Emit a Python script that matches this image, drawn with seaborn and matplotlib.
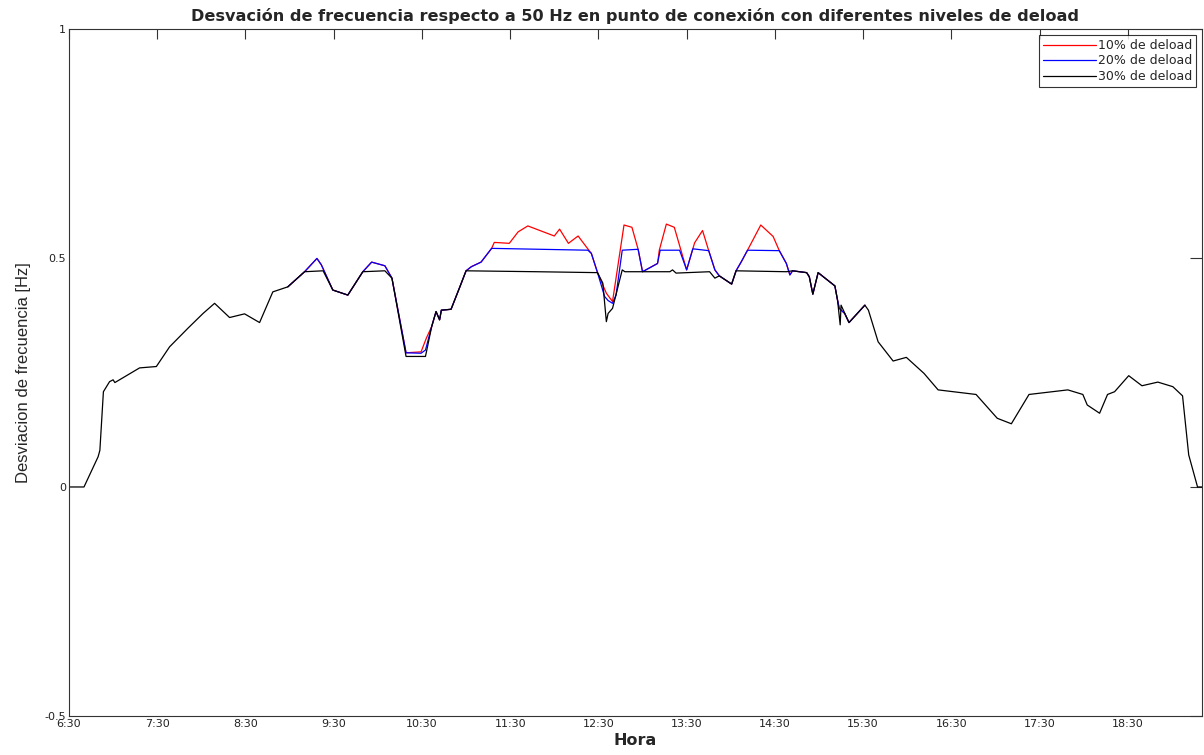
import matplotlib
matplotlib.use("Agg")
import matplotlib.pyplot as plt
import seaborn as sns

# Hours (decimal) and frequency deviation [Hz]
t30 = [6.50, 6.67, 6.83, 6.85, 6.89, 6.96, 7.00, 7.02, 7.30, 7.49, 7.64, 7.85,
       8.02, 8.15, 8.32, 8.49, 8.66, 8.81, 8.98, 9.17, 9.38, 9.49, 9.66, 9.83,
       10.08, 10.16, 10.32, 10.54, 10.61, 10.66, 10.70, 10.72, 10.83, 10.93,
       10.99, 11.00, 11.80, 12.49, 12.55, 12.59, 12.61, 12.66, 12.77, 12.80,
       13.31, 13.34, 13.38, 13.76, 13.82, 13.87, 14.01, 14.06, 14.63, 14.70,
       14.86, 14.89, 14.93, 14.99, 15.18, 15.21, 15.24, 15.25, 15.34, 15.52,
       15.56, 15.67, 15.84, 15.99, 16.19, 16.35, 16.78, 17.02, 17.18, 17.38,
       17.82, 17.99, 18.04, 18.18, 18.27, 18.35, 18.51, 18.66, 18.84, 19.01,
       19.12, 19.19, 19.29, 19.34]
f30 = [0, 0, 0.066, 0.080, 0.208, 0.230, 0.234, 0.228, 0.260, 0.263, 0.306, 0.347,
       0.379, 0.401, 0.370, 0.378, 0.359, 0.426, 0.437, 0.470, 0.472, 0.430, 0.419, 0.470,
       0.472, 0.456, 0.285, 0.285, 0.350, 0.383, 0.365, 0.386, 0.388, 0.437,
       0.467, 0.472, 0.470, 0.468, 0.445, 0.361, 0.379, 0.390, 0.474, 0.470,
       0.470, 0.474, 0.467, 0.470, 0.456, 0.461, 0.443, 0.472, 0.470, 0.472,
       0.468, 0.459, 0.421, 0.468, 0.439, 0.408, 0.354, 0.397, 0.359, 0.397,
       0.386, 0.317, 0.275, 0.283, 0.248, 0.212, 0.202, 0.150, 0.138, 0.202,
       0.212, 0.202, 0.179, 0.161, 0.202, 0.208, 0.243, 0.221, 0.229, 0.219,
       0.199, 0.070, 0, 0]

t20 = [8.98, 9.17, 9.31, 9.36, 9.49, 9.66, 9.83, 9.93, 10.08, 10.16, 10.32, 10.49,
       10.54, 10.61, 10.66, 10.70, 10.72, 10.83, 10.93, 10.99, 11.00, 11.06, 11.17,
       11.29, 12.38, 12.42, 12.49, 12.57, 12.61, 12.66, 12.70, 12.77, 12.95, 13.00,
       13.17, 13.20, 13.42, 13.50, 13.57, 13.75, 13.82, 13.87, 14.01, 14.06, 14.12,
       14.19, 14.55, 14.63, 14.67, 14.70, 14.86, 14.89, 14.93, 14.99, 15.18, 15.21,
       15.23, 15.29, 15.34, 15.52]
f20 = [0.437, 0.470, 0.499, 0.485, 0.430, 0.419, 0.470, 0.491, 0.483, 0.456, 0.293, 0.292,
       0.299, 0.350, 0.383, 0.365, 0.386, 0.388, 0.437, 0.467, 0.472, 0.481, 0.491,
       0.521, 0.517, 0.510, 0.468, 0.416, 0.407, 0.401, 0.419, 0.517, 0.519, 0.470,
       0.488, 0.517, 0.517, 0.474, 0.520, 0.516, 0.474, 0.461, 0.443, 0.472, 0.492,
       0.517, 0.516, 0.488, 0.463, 0.472, 0.468, 0.459, 0.421, 0.468, 0.439, 0.408,
       0.390, 0.379, 0.359, 0.397]

t10 = [8.98, 9.17, 9.31, 9.36, 9.49, 9.66, 9.83, 9.93, 10.08, 10.16, 10.32, 10.49,
       10.55, 10.61, 10.66, 10.70, 10.72, 10.83, 10.93, 10.99, 11.00, 11.06, 11.17,
       11.29, 11.32, 11.49, 11.59, 11.70, 12.00, 12.06, 12.16, 12.27, 12.36, 12.42,
       12.49, 12.59, 12.66, 12.79, 12.88, 12.95, 13.00, 13.17, 13.19, 13.27, 13.36,
       13.50, 13.59, 13.68, 13.75, 13.82, 13.87, 14.01, 14.06, 14.12, 14.19, 14.34,
       14.48, 14.55, 14.63, 14.67, 14.70, 14.86, 14.89, 14.93, 14.99, 15.18, 15.21,
       15.23, 15.29, 15.34, 15.52]
f10 = [0.437, 0.470, 0.499, 0.485, 0.430, 0.419, 0.470, 0.491, 0.483, 0.456, 0.293, 0.295,
       0.325, 0.350, 0.383, 0.365, 0.386, 0.388, 0.437, 0.467, 0.472, 0.481, 0.491,
       0.521, 0.534, 0.532, 0.557, 0.570, 0.548, 0.563, 0.532, 0.548, 0.525, 0.510,
       0.468, 0.423, 0.405, 0.572, 0.567, 0.519, 0.470, 0.488, 0.517, 0.574, 0.567,
       0.474, 0.533, 0.560, 0.516, 0.474, 0.461, 0.443, 0.472, 0.492, 0.517, 0.572,
       0.547, 0.516, 0.488, 0.463, 0.472, 0.468, 0.459, 0.421, 0.468, 0.439, 0.408,
       0.390, 0.379, 0.359, 0.397]

tick_pos = [6.5, 7.5, 8.5, 9.5, 10.5, 11.5, 12.5, 13.5, 14.5, 15.5, 16.5, 17.5, 18.5]
tick_lab = ["6:30", "7:30", "8:30", "9:30", "10:30", "11:30", "12:30", "13:30",
            "14:30", "15:30", "16:30", "17:30", "18:30"]

sns.set_style("white")
plt.rcParams['font.family'] = ['DejaVu Sans']

fig = plt.figure(figsize=(12.04, 7.55), dpi=100)
ax = fig.add_axes([0.0573, 0.0517, 0.9410, 0.9099])

lw = 0.9
sns.lineplot(x=t10, y=f10, ax=ax, color="#ff0000", lw=lw, estimator=None,
             sort=False, label="10% de deload")
sns.lineplot(x=t20, y=f20, ax=ax, color="#0000ff", lw=lw, estimator=None,
             sort=False, label="20% de deload")
sns.lineplot(x=t30, y=f30, ax=ax, color="black", lw=lw, estimator=None,
             sort=False, label="30% de deload")

ax.set_xlim(6.5, 19.34)
ax.set_ylim(-0.5, 1)
ax.set_xticks(tick_pos)
ax.set_xticklabels(tick_lab)
ax.set_yticks([-0.5, 0, 0.5, 1])
ax.set_yticklabels(["-0.5", "0", "0.5", "1"])
ax.tick_params(axis="both", direction="in", labelsize=8, top=True, right=True,
               width=0.8, color="#333333", pad=2, labelcolor="#222222")
ax.tick_params(axis="x", length=7)
ax.tick_params(axis="y", length=9)
for s in ax.spines.values():
    s.set_color("#333333")
    s.set_linewidth(0.8)

ax.set_title("Desvación de frecuencia respecto a 50 Hz en punto de conexión "
             "con diferentes niveles de deload", fontsize=11.6, fontweight="bold",
             pad=6)
ax.set_xlabel("Hora", fontsize=11.5, fontweight="bold", labelpad=3)
ax.set_ylabel("Desviacion de frecuencia [Hz]",
              fontsize=12, family=['Liberation Sans'], labelpad=10)

leg = ax.legend(loc="upper right", fontsize=9, frameon=True, fancybox=False,
                handlelength=4.2, borderaxespad=0.45, labelspacing=0.2,
                handletextpad=0.15, borderpad=0.35)
leg.get_frame().set_edgecolor("black")
leg.get_frame().set_linewidth(0.8)

fig.savefig("out.png", dpi=100)
